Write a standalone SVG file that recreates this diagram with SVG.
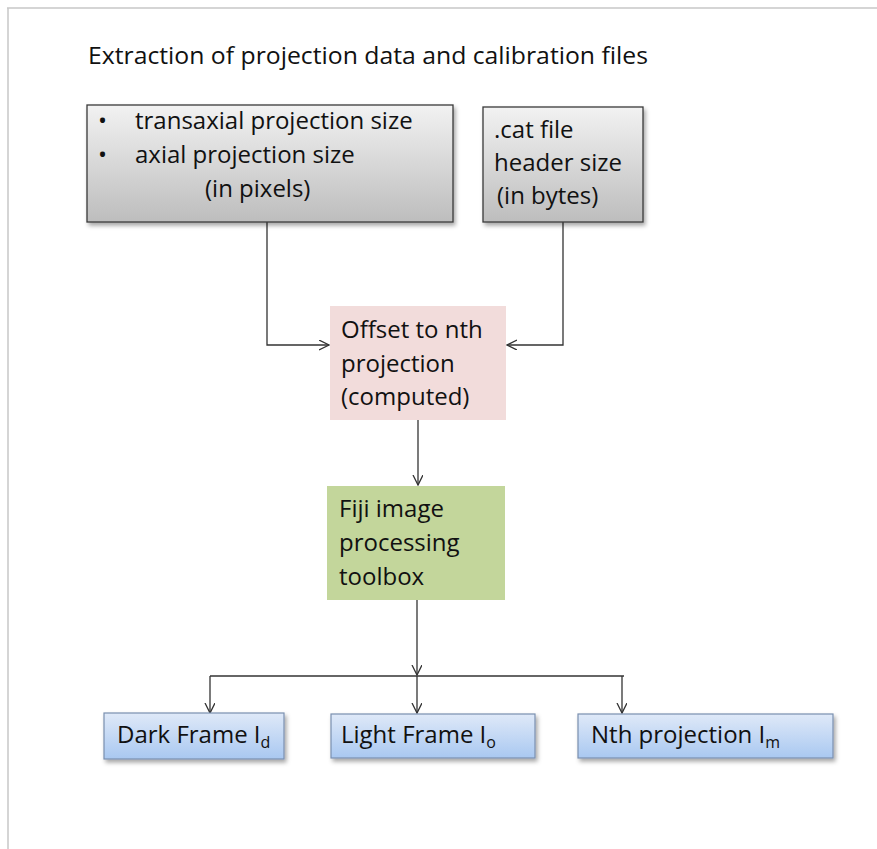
<svg xmlns="http://www.w3.org/2000/svg" width="877" height="849" viewBox="0 0 877 849">
<style>
text{font-family:"Open Sans","Liberation Sans",sans-serif;fill:#111;font-size:24px}
.conn{fill:none;stroke:#333;stroke-width:1.3}
.gray{fill:url(#gGray);stroke:#3a3a3a;stroke-width:1.3}
.blue{fill:url(#gBlue);stroke:#7a8fb0;stroke-width:1.2}
.sub{font-size:16px}
</style>
<defs>
<linearGradient id="gGray" x1="0" y1="0" x2="0" y2="1">
<stop offset="0" stop-color="#f2f2f2"/><stop offset="1" stop-color="#bdbdbd"/>
</linearGradient>
<linearGradient id="gBlue" x1="0" y1="0" x2="0" y2="1">
<stop offset="0" stop-color="#dfe9f8"/><stop offset="1" stop-color="#a9c8f1"/>
</linearGradient>
<filter id="shadow" x="-10%" y="-10%" width="130%" height="140%">
<feDropShadow dx="2" dy="3" stdDeviation="2" flood-color="#000" flood-opacity="0.35"/>
</filter>
<marker id="arr" markerWidth="12" markerHeight="12" refX="10" refY="5" orient="auto" markerUnits="userSpaceOnUse">
<path d="M0,0 L10,5 L0,10" fill="none" stroke="#333" stroke-width="1.3"/>
</marker>
</defs>
<rect width="877" height="849" fill="#fff"/>
<path d="M7,8 H877 M8,8 V849" fill="none" stroke="#c8c8c8" stroke-width="1.5"/>
<text id="title" x="88" y="64" font-size="26" textLength="560" lengthAdjust="spacingAndGlyphs">Extraction of projection data and calibration files</text>

<g id="connectors">
<path class="conn" d="M267,222 V345 H329" marker-end="url(#arr)"/>
<path class="conn" d="M563,222 V345 H507" marker-end="url(#arr)"/>
<path class="conn" d="M418,420 V485" marker-end="url(#arr)"/>
<path class="conn" d="M417,600 V675" marker-end="url(#arr)"/>
<path class="conn" d="M210,676 H624"/>
<path class="conn" d="M417,676 V713" marker-end="url(#arr)"/>
<path class="conn" d="M210,676 V713" marker-end="url(#arr)"/>
<path class="conn" d="M622,676 V713" marker-end="url(#arr)"/>
</g>

<g id="box-pixels">
<rect class="gray" x="87" y="105" width="366" height="117" filter="url(#shadow)"/>
<text x="98" y="129">•</text><text x="135" y="129">transaxial projection size</text>
<text x="98" y="163">•</text><text x="135" y="163">axial  projection size</text>
<text x="205" y="197">(in pixels)</text>
</g>

<g id="box-bytes">
<rect class="gray" x="483" y="107" width="160" height="115" filter="url(#shadow)"/>
<text x="494" y="138">.cat file</text>
<text x="494" y="171">header size</text>
<text x="497" y="204">(in bytes)</text>
</g>

<g id="box-offset">
<rect x="330" y="306" width="176" height="114" fill="#f2dcdb"/>
<text x="341" y="338">Offset to nth</text>
<text x="341" y="372">projection</text>
<text x="341" y="405">(computed)</text>
</g>

<g id="box-fiji">
<rect x="327" y="486" width="178" height="114" fill="#c3d69b"/>
<text x="339" y="517">Fiji image</text>
<text x="339" y="551">processing</text>
<text x="339" y="585">toolbox</text>
</g>

<g id="box-dark">
<rect class="blue" x="104" y="713" width="180" height="46" filter="url(#shadow)"/>
<text x="117" y="743">Dark Frame I<tspan class="sub" dy="5">d</tspan></text>
</g>

<g id="box-light">
<rect class="blue" x="331" y="714" width="204" height="44" filter="url(#shadow)"/>
<text x="341" y="743">Light Frame I<tspan class="sub" dy="5">o</tspan></text>
</g>

<g id="box-nth">
<rect class="blue" x="578" y="714" width="255" height="44" filter="url(#shadow)"/>
<text x="591" y="743">Nth projection I<tspan class="sub" dy="5">m</tspan></text>
</g>
</svg>
